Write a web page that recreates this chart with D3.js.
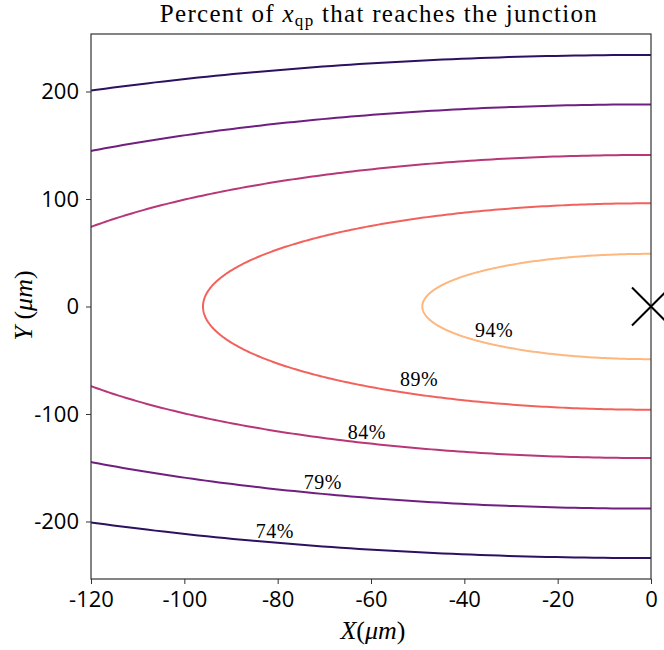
<!DOCTYPE html>
<html><head><meta charset="utf-8">
<script src="https://cdn.jsdelivr.net/npm/d3@7"></script>
<style>body{margin:0;background:#fff}</style>
</head><body>
<svg id="c" width="664" height="650"></svg>
<script>
// Data
const levels = [74, 79, 84, 89, 94];          // contour levels (%)
const radii = [234, 188, 141, 96, 49];        // contour radius (µm)
const colorT = [0.17, 0.33, 0.5, 0.67, 0.85]; // position in magma colormap
const labelX = [-80.6, -70.3, -60.9, -49.7, -33.6];
const labelY = [-208.4, -163.7, -116.3, -67.9, -21.4];
const xTicks = [-120, -100, -80, -60, -40, -20, 0];
const yTicks = [-200, -100, 0, 100, 200];
const marker = {x: 0, y: 0};

const svg = d3.select("#c");
const L = 91, R = 651, T = 34, B = 579;
const x = d3.scaleLinear().domain([-120, 0]).range([L, R]);
const y = d3.scaleLinear().domain([-253.5, 253.5]).range([B, T]);

svg.append("clipPath").attr("id", "clip").append("rect")
  .attr("x", L).attr("y", T).attr("width", R - L).attr("height", B - T);

const line = d3.line().x(d => x(d[0])).y(d => y(d[1]));
const g = svg.append("g").attr("clip-path", "url(#clip)");
levels.forEach((lv, i) => {
  const r = radii[i];
  const pts = d3.range(90, 270.01, 0.5).map(a => {
    const t = a * Math.PI / 180;
    return [r * Math.cos(t), r * Math.sin(t)];
  });
  g.append("path").attr("d", line(pts)).attr("fill", "none")
    .attr("stroke", d3.interpolateMagma(colorT[i])).attr("stroke-width", 2);
});

// labels
levels.forEach((lv, i) => {
  svg.append("text").attr("x", x(labelX[i])).attr("y", y(labelY[i]))
    .attr("text-anchor", "middle").attr("dominant-baseline", "central")
    .attr("font-family", "Liberation Serif, serif").attr("font-size", 20)
    .attr("letter-spacing", 0.5)
    .attr("fill", "#000").text(lv + "%");
});

// frame
svg.append("rect").attr("x", L).attr("y", T).attr("width", R - L).attr("height", B - T)
  .attr("fill", "none").attr("stroke", "#333").attr("stroke-width", 1.2);

// axes
const xa = svg.append("g").attr("transform", `translate(0,${B})`)
  .call(d3.axisBottom(x).tickValues(xTicks).tickSize(5).tickPadding(7).tickFormat(d3.format("d")));
const ya = svg.append("g").attr("transform", `translate(${L},0)`)
  .call(d3.axisLeft(y).tickValues(yTicks).tickSize(5).tickPadding(7).tickFormat(d3.format("d")));
[xa, ya].forEach(a => {
  a.select(".domain").remove();
  a.selectAll("line").attr("stroke", "#333");
  a.selectAll("text").attr("font-family", "Open Sans, sans-serif").attr("font-size", 22)
    .attr("fill", "#000").text(d => d < 0 ? "-" + Math.abs(d) : d);
});

// marker X
const mx = x(marker.x), my = y(marker.y), s = 19;
svg.append("path").attr("d", `M${mx-s},${my-s}L${mx+s},${my+s}M${mx-s},${my+s}L${mx+s},${my-s}`)
  .attr("stroke", "#000").attr("stroke-width", 2).attr("fill", "none");

// title
const title = svg.append("text").attr("x", (L + R) / 2 + 8).attr("y", 22)
  .attr("text-anchor", "middle").attr("font-family", "Liberation Serif, serif").attr("font-size", 25)
  .attr("letter-spacing", 1.3);
title.append("tspan").text("Percent of ");
title.append("tspan").attr("font-style", "italic").text("x");
title.append("tspan").attr("font-size", 17).attr("dy", 4).text("qp");
title.append("tspan").attr("dy", -4).text(" that reaches the junction");

// axis labels
const xl = svg.append("text").attr("x", (L + R) / 2 + 2).attr("y", 639).attr("text-anchor", "middle")
  .attr("font-family", "Liberation Serif, serif").attr("font-size", 26);
xl.append("tspan").attr("font-style", "italic").text("X");
xl.append("tspan").text("(");
xl.append("tspan").attr("font-style", "italic").text("μm");
xl.append("tspan").text(")");

const yl = svg.append("text").attr("transform", `translate(32,${(T + B) / 2 - 1}) rotate(-90)`)
  .attr("text-anchor", "middle").attr("font-family", "Liberation Serif, serif").attr("font-size", 26);
yl.append("tspan").attr("font-style", "italic").text("Y");
yl.append("tspan").text(" (");
yl.append("tspan").attr("font-style", "italic").text("μm");
yl.append("tspan").text(")");
</script>
</body></html>
